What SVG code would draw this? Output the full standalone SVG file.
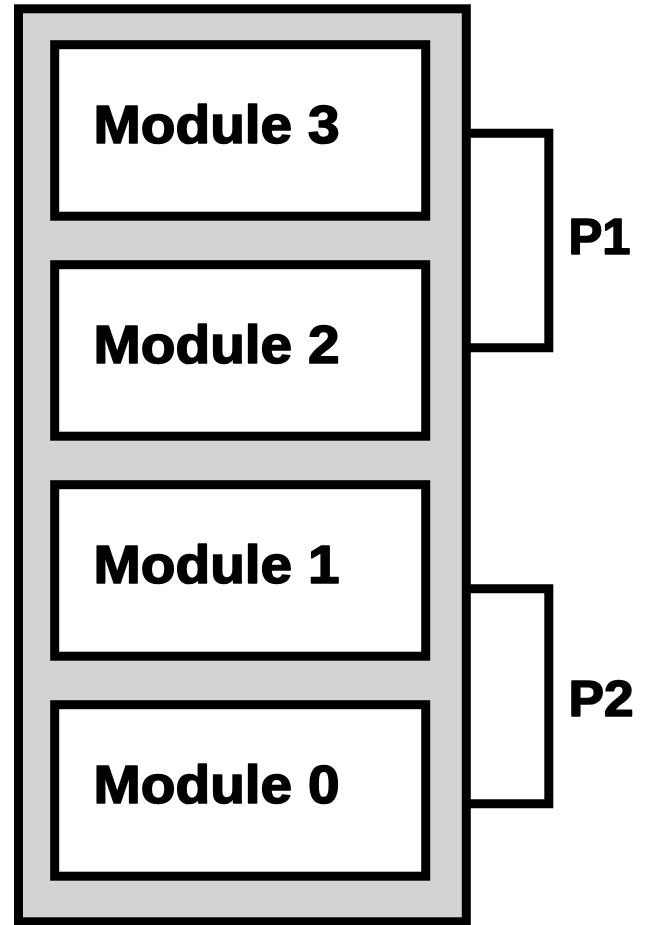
<svg xmlns="http://www.w3.org/2000/svg" width="652" height="925" viewBox="0 0 652 925">
<style>
.frame{fill:#d3d3d3;stroke:#000;stroke-width:9}
.mod{fill:#fff;stroke:#000;stroke-width:9}
.br{fill:none;stroke:#000;stroke-width:9;stroke-linejoin:miter;stroke-linecap:butt}
.lbl{font-family:"Liberation Sans",Arial,sans-serif;font-weight:bold;font-size:53px;fill:#000;stroke:#000;stroke-width:1.6;stroke-linejoin:round}
.p{font-family:"Liberation Sans",Arial,sans-serif;font-weight:bold;font-size:50px;fill:#000;stroke:#000;stroke-width:1.6;stroke-linejoin:round}
</style>
<rect width="652" height="925" fill="#fff"/>
<g id="frame"><rect class="frame" x="18.5" y="8.8" width="447.8" height="913"/></g>
<g id="module3"><rect class="mod" x="54.7" y="44.7" width="371" height="171.5"/><text class="lbl" x="93.5" y="142.8" textLength="246" lengthAdjust="spacingAndGlyphs">Module 3</text></g>
<g id="module2"><rect class="mod" x="54.7" y="264.7" width="371" height="171.5"/><text class="lbl" x="93.5" y="362.8" textLength="246" lengthAdjust="spacingAndGlyphs">Module 2</text></g>
<g id="module1"><rect class="mod" x="54.7" y="484.7" width="371" height="171.5"/><text class="lbl" x="93.5" y="582.8" textLength="246" lengthAdjust="spacingAndGlyphs">Module 1</text></g>
<g id="module0"><rect class="mod" x="54.7" y="704.7" width="371" height="171.5"/><text class="lbl" x="93.5" y="802.8" textLength="246" lengthAdjust="spacingAndGlyphs">Module 0</text></g>
<g id="connectors">
<path class="br" d="M466.3 133.3 H548.8 V347.8 H466.3"/>
<path class="br" d="M466.3 588.7 H548.8 V803.7 H466.3"/>
</g>
<g id="P1"><text class="p" x="568.5" y="253.5" textLength="62" lengthAdjust="spacingAndGlyphs">P1</text></g>
<g id="P2"><text class="p" x="568.5" y="716.2" textLength="65" lengthAdjust="spacingAndGlyphs">P2</text></g>
</svg>
